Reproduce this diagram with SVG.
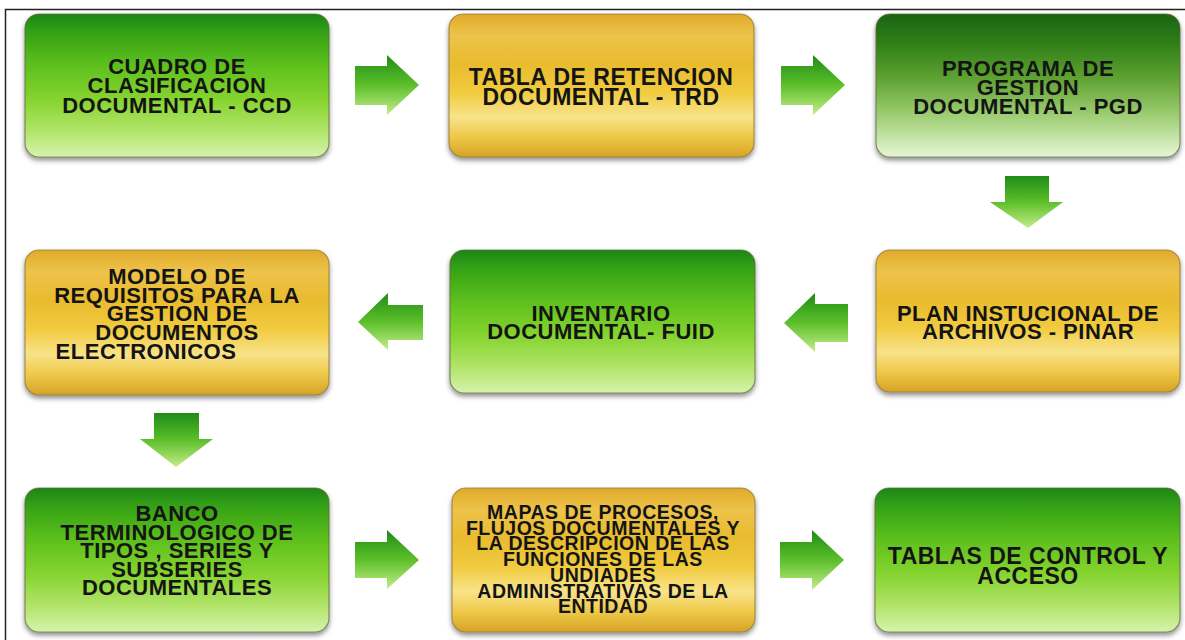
<svg xmlns="http://www.w3.org/2000/svg" width="1185" height="640" viewBox="0 0 1185 640">
<defs>
<linearGradient id="gGreen" x1="0" y1="0" x2="0" y2="1">
<stop offset="0" stop-color="#1c8512"/>
<stop offset="0.12" stop-color="#33a016"/>
<stop offset="0.35" stop-color="#5cbf1c"/>
<stop offset="0.6" stop-color="#86d430"/>
<stop offset="0.82" stop-color="#b2e46a"/>
<stop offset="1" stop-color="#d6f3ae"/>
</linearGradient>
<linearGradient id="gDark" x1="0" y1="0" x2="0" y2="1">
<stop offset="0" stop-color="#1a6410"/>
<stop offset="0.2" stop-color="#2e7e18"/>
<stop offset="0.45" stop-color="#5fa232"/>
<stop offset="0.7" stop-color="#9ccc70"/>
<stop offset="1" stop-color="#e6f6d6"/>
</linearGradient>
<linearGradient id="gGold" x1="0" y1="0" x2="0" y2="1">
<stop offset="0" stop-color="#e0aa2a"/>
<stop offset="0.15" stop-color="#edc34a"/>
<stop offset="0.35" stop-color="#e9bb2e"/>
<stop offset="0.55" stop-color="#f1cb40"/>
<stop offset="0.72" stop-color="#f8e38a"/>
<stop offset="0.86" stop-color="#eec848"/>
<stop offset="1" stop-color="#d6a326"/>
</linearGradient>
<linearGradient id="gArrow" x1="0" y1="0" x2="0" y2="1">
<stop offset="0" stop-color="#1f8c16"/>
<stop offset="0.5" stop-color="#5cbf2a"/>
<stop offset="1" stop-color="#c4ec8a"/>
</linearGradient>
<filter id="sh" x="-10%" y="-10%" width="120%" height="130%">
<feDropShadow dx="0" dy="3" stdDeviation="2.5" flood-color="#000" flood-opacity="0.45"/>
</filter>
<style>
.box{stroke:#5c6a3c;stroke-opacity:0.7;stroke-width:1.2;filter:url(#sh)}
.green{fill:url(#gGreen)}
.dark{fill:url(#gDark)}
.gold{fill:url(#gGold);stroke:#8a7230}
.t{font-family:"Liberation Sans",Arial,sans-serif;font-weight:bold;font-size:22px;fill:#141414;text-anchor:middle;letter-spacing:0.5px}
.arr{fill:url(#gArrow)}
</style>
</defs>
<rect width="1185" height="640" fill="#ffffff"/>
<path d="M5.5 640 V9.5 H1185" fill="none" stroke="#222" stroke-width="1.5"/>

<g id="n-ccd">
<rect class="box green" x="25" y="14" width="304" height="143" rx="14"/>
<text class="t" x="177" y="74">CUADRO DE</text>
<text class="t" x="177" y="93.3">CLASIFICACION</text>
<text class="t" x="177" y="112.6">DOCUMENTAL - CCD</text>
</g>
<g id="n-trd">
<rect class="box gold" x="449" y="14" width="305" height="143" rx="14"/>
<text class="t" x="601" y="84.5" style="font-size:23px">TABLA DE RETENCION</text>
<text class="t" x="601" y="104.5" style="font-size:23px">DOCUMENTAL - TRD</text>
</g>
<g id="n-pgd">
<rect class="box dark" x="876" y="14" width="304" height="143" rx="14"/>
<text class="t" x="1028" y="76">PROGRAMA DE</text>
<text class="t" x="1028" y="95">GESTION</text>
<text class="t" x="1028" y="114">DOCUMENTAL - PGD</text>
</g>
<g id="n-pinar">
<rect class="box gold" x="876" y="250" width="304" height="142" rx="14"/>
<text class="t" x="1028" y="321">PLAN INSTUCIONAL DE</text>
<text class="t" x="1028" y="339">ARCHIVOS - PINAR</text>
</g>
<g id="n-fuid">
<rect class="box green" x="450" y="250" width="305" height="143" rx="14"/>
<text class="t" x="601" y="321">INVENTARIO</text>
<text class="t" x="601" y="339">DOCUMENTAL- FUID</text>
</g>
<g id="n-modelo">
<rect class="box gold" x="25" y="250" width="304" height="145" rx="14"/>
<text class="t" x="177" y="284">MODELO DE</text>
<text class="t" x="177" y="302.7">REQUISITOS PARA LA</text>
<text class="t" x="177" y="321.4">GESTION DE</text>
<text class="t" x="177" y="340">DOCUMENTOS</text>
<text class="t" x="146" y="358.8">ELECTRONICOS</text>
</g>
<g id="n-banco">
<rect class="box green" x="25" y="488" width="304" height="144" rx="14"/>
<text class="t" x="177" y="521">BANCO</text>
<text class="t" x="177" y="539.5">TERMINOLOGICO DE</text>
<text class="t" x="177" y="558">TIPOS , SERIES Y</text>
<text class="t" x="177" y="576.5">SUBSERIES</text>
<text class="t" x="177" y="595">DOCUMENTALES</text>
</g>
<g id="n-mapas">
<rect class="box gold" x="452" y="488" width="303" height="144" rx="14"/>
<text class="t" x="603" y="519" style="font-size:19.5px">MAPAS DE PROCESOS,</text>
<text class="t" x="603" y="534.7" style="font-size:19.5px">FLUJOS DOCUMENTALES Y</text>
<text class="t" x="603" y="550.4" style="font-size:19.5px">LA DESCRIPCION DE LAS</text>
<text class="t" x="603" y="566.1" style="font-size:19.5px">FUNCIONES DE LAS</text>
<text class="t" x="603" y="581.8" style="font-size:19.5px">UNDIADES</text>
<text class="t" x="603" y="597.5" style="font-size:19.5px">ADMINISTRATIVAS DE LA</text>
<text class="t" x="603" y="613.2" style="font-size:19.5px">ENTIDAD</text>
</g>
<g id="n-tablas">
<rect class="box green" x="875" y="488" width="305" height="144" rx="14"/>
<text class="t" x="1028" y="563.5" style="font-size:23px">TABLAS DE CONTROL Y</text>
<text class="t" x="1028" y="583.5" style="font-size:23px">ACCESO</text>
</g>

<g id="connectors">
<polygon class="arr" points="355,66 387,66 387,55 419,85 387,115 387,105 355,105"/>
<polygon class="arr" points="781,66 813,66 813,55 845,85 813,115 813,105 781,105"/>
<polygon class="arr" points="1005,176 1049,176 1049,202 1063,202 1028,228 990,202 1005,202"/>
<polygon class="arr" points="848,304 815,304 815,293 784,323 815,352 815,342 848,342"/>
<polygon class="arr" points="423,305 388,305 388,293 358,322 388,350 388,340 423,340"/>
<polygon class="arr" points="154,413 199,413 199,439 213,439 176,467 140,439 154,439"/>
<polygon class="arr" points="355,542 387,542 387,530 419,560 387,589 387,578 355,578"/>
<polygon class="arr" points="780,542 812,542 812,530 844,560 812,590 812,578 780,578"/>
</g>
</svg>
